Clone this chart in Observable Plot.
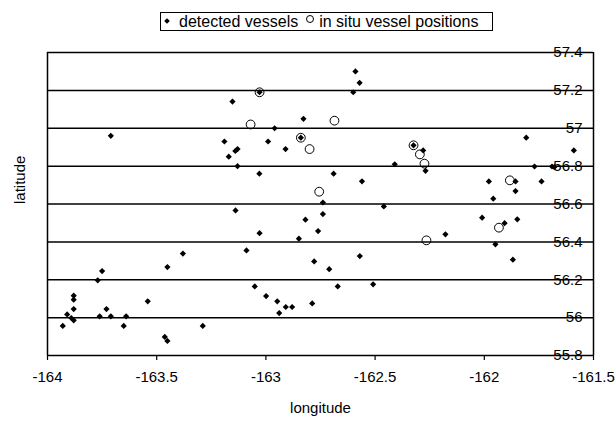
<!DOCTYPE html>
<html>
<head>
<meta charset="utf-8">
<script src="https://cdn.jsdelivr.net/npm/d3@7"></script>
<script src="https://cdn.jsdelivr.net/npm/@observablehq/plot@0.6"></script>
<style>
  html, body { margin: 0; padding: 0; background: #fff; }
  #wrap { position: relative; width: 616px; height: 421px; font-family: "Liberation Sans", Arial, sans-serif; }
  #legend { position: absolute; left: 160px; top: 12px; width: 333px; height: 19px; box-sizing: border-box;
            border: 1px solid #000; font-size: 16px; display: flex; align-items: center; padding-left: 4px; white-space: nowrap; background: #fff; }
  .dia { display: inline-block; width: 4px; height: 4px; background: #000; transform: rotate(45deg); margin-right: 10px; margin-top: -2px; }
  .cir { display: inline-block; width: 6px; height: 6px; border: 1px solid #000; border-radius: 50%; margin: 0 5px 0 8px; position: relative; top: -3px; }
</style>
</head>
<body>
<div id="wrap"><div id="legend"><span class="dia"></span>detected vessels<span class="cir"></span>in situ vessel positions</div></div>
<script>
const detLon = [-163.71,-163.153,-163.19,-163.14,-163.13,-163.17,-163.13,-162.59,-162.571,-162.60,
  -163.029,-162.828,-162.96,-162.99,-162.84,-162.91,-162.324,-162.41,-163.03,-162.69,
  -162.56,-162.28,-162.269,-161.808,-161.59,-161.77,-161.69,-161.679,-161.979,-161.857,
  -161.738,-161.857,-161.959,-162.010,-161.907,-161.849,-162.178,-161.949,-161.869,-162.739,
  -162.46,-163.139,-162.739,-162.819,-163.029,-162.761,-162.849,-163.089,-162.779,-162.570,
  -162.710,-163.051,-162.671,-162.509,-162.999,-162.948,-162.909,-162.880,-162.788,-162.939,
  -163.380,-163.451,-163.750,-163.770,-163.541,-163.880,-163.880,-163.880,-163.910,-163.891,
  -163.880,-163.930,-163.761,-163.730,-163.710,-163.640,-163.651,-163.289,-163.463,-163.451];
const detLat = [56.96,57.141,56.93,56.88,56.89,56.85,56.80,57.30,57.24,57.19,
  57.19,57.05,57.00,56.93,56.95,56.89,56.91,56.81,56.76,56.76,
  56.72,56.883,56.775,56.95,56.883,56.798,56.798,56.795,56.719,56.719,
  56.719,56.668,56.628,56.528,56.499,56.519,56.44,56.387,56.306,56.608,
  56.587,56.566,56.547,56.517,56.446,56.457,56.417,56.355,56.297,56.325,
  56.256,56.165,56.165,56.176,56.114,56.086,56.056,56.056,56.075,56.024,
  56.338,56.267,56.246,56.197,56.086,56.116,56.095,56.045,56.017,55.998,
  55.986,55.956,56.007,56.045,56.007,56.007,55.956,55.956,55.898,55.877];
const situLon = [-163.029,-163.07,-162.686,-162.84,-162.80,-162.324,-162.295,-162.274,-162.756,-161.883,-161.933,-162.265];
const situLat = [57.19,57.02,57.04,56.95,56.89,56.91,56.862,56.813,56.665,56.725,56.475,56.408];
const xTicks = [-164,-163.5,-163,-162.5,-162,-161.5];
const yTicks = [55.8,56,56.2,56.4,56.6,56.8,57,57.2,57.4];
const yLabels = ["55.8","56","56.2","56.4","56.6","56.8","57","57.2","57.4"];

const detected = detLon.map((x, i) => ({x, y: detLat[i]}));
const situ = situLon.map((x, i) => ({x, y: situLat[i]}));
const yTickRows = yTicks.map((v, i) => ({v, label: yLabels[i]}));

const diamond = {
  draw(context, size) {
    const h = Math.sqrt(size / Math.PI);
    context.moveTo(0, -h); context.lineTo(h, 0); context.lineTo(0, h); context.lineTo(-h, 0); context.closePath();
  }
};

const chart = Plot.plot({
  width: 616, height: 421,
  marginLeft: 47, marginRight: 23, marginTop: 52, marginBottom: 66,
  style: {fontFamily: '"Liberation Sans", Arial, sans-serif', fontSize: "15px", color: "#000", background: "transparent"},
  x: {domain: [-164, -161.5]},
  y: {domain: [55.8, 57.4], axis: null},
  marks: [
    Plot.ruleY(yTicks, {stroke: "#000", strokeWidth: 1.5}),
    Plot.ruleX([-164, -161.5], {stroke: "#000", strokeWidth: 1.5}),
    Plot.axisX({ticks: xTicks, tickSize: 5, tickPadding: 11, tickFormat: d => String(d), label: null, stroke: "#000", strokeWidth: 1.2}),
    Plot.text(yTickRows, {frameAnchor: "right", y: "v", text: "label", textAnchor: "end", dx: -11, fill: "#000"}),
    Plot.dot(situ, {x: "x", y: "y", r: 4.4, stroke: "#000", strokeWidth: 1, fill: "none"}),
    Plot.dot(detected, {x: "x", y: "y", symbol: diamond, r: 3.1, fill: "#000", stroke: "none"}),
    Plot.text(["latitude"], {frameAnchor: "left", rotate: -90, dx: -27, text: d => d, fill: "#000"}),
    Plot.text(["longitude"], {frameAnchor: "bottom", lineAnchor: "middle", dy: 53, text: d => d, fill: "#000"})
  ]
});
document.getElementById("wrap").appendChild(chart);
chart.style.position = "absolute";
chart.style.left = "0";
chart.style.top = "0";
document.getElementById("wrap").appendChild(document.getElementById("legend"));
</script>
</body>
</html>
